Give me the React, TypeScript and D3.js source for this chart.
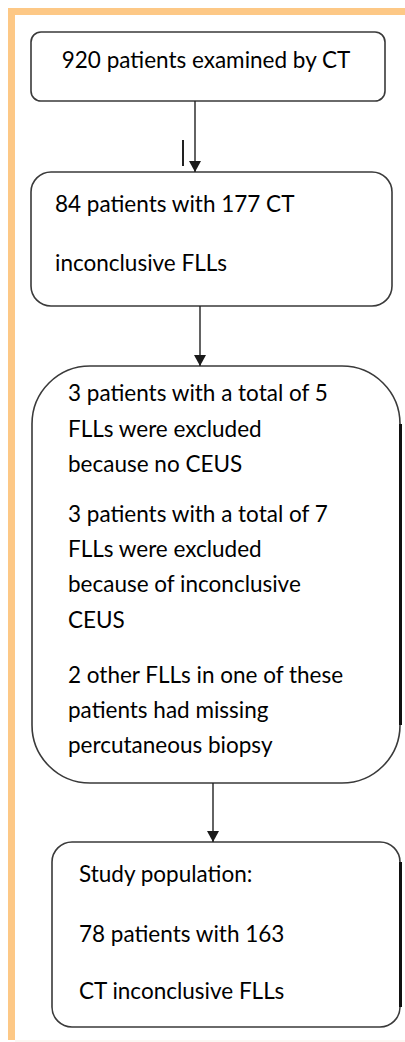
import { useEffect, useRef } from "react";
import * as d3 from "d3";

// box texts, top to bottom
const box1Lines = ["920 patients examined by CT"];
const box2Lines = ["84 patients with 177 CT", "inconclusive FLLs"];
const box3Lines = [
  "3 patients with a total of 5",
  "FLLs were excluded",
  "because no CEUS",
  "3 patients with a total of 7",
  "FLLs were excluded",
  "because of inconclusive",
  "CEUS",
  "2 other FLLs in one of these",
  "patients had missing",
  "percutaneous biopsy",
];
const box4Lines = ["Study population:", "78 patients with 163", "CT inconclusive FLLs"];

const allLines = [box1Lines, box2Lines, box3Lines, box4Lines];

// layout of the boxes (pixel geometry, not data)
const layout = [
  { x0: 31, x1: 385, y0: 32, y1: 101, r: 10, tx: 206, anchor: "middle", baselines: [68] },
  { x0: 31, x1: 392, y0: 172, y1: 306, r: 20, tx: 55, anchor: "start", baselines: [212, 271] },
  {
    x0: 32, x1: 400, y0: 366, y1: 783, r: 58, tx: 68, anchor: "start",
    baselines: [401, 437, 472, 522, 557, 592, 628, 683, 718, 753],
  },
  { x0: 52, x1: 400, y0: 842, y1: 1027, r: 20, tx: 79, anchor: "start", baselines: [882, 942, 999] },
];

const arrowX = [195, 200, 213];

const App = () => {
  const svgRef = useRef<SVGSVGElement | null>(null);

  useEffect(() => {
    if (!svgRef.current) return;
    const width = 405;
    const height = 1042;

    const svg = d3
      .select(svgRef.current)
      .attr("width", width)
      .attr("height", height)
      .attr("viewBox", `0 0 ${width} ${height}`)
      .style("position", "absolute")
      .style("left", "0px")
      .style("top", "0px")
      .style("background", "#fff");

    svg.selectAll("*").remove();

    // orange frame (top + left)
    svg.append("rect").attr("x", 8).attr("y", 8).attr("width", width - 8).attr("height", 7).attr("fill", "#fdc886");
    svg.append("rect").attr("x", 8).attr("y", 8).attr("width", 7).attr("height", 1032).attr("fill", "#fdc886");
    svg.append("line").attr("x1", 15).attr("x2", width).attr("y1", 1041).attr("y2", 1041).attr("stroke", "#f7efe8").attr("stroke-width", 1);

    const defs = svg.append("defs");
    defs
      .append("marker")
      .attr("id", "arrowhead")
      .attr("viewBox", "0 0 12 11")
      .attr("refX", 6)
      .attr("refY", 11)
      .attr("markerWidth", 12)
      .attr("markerHeight", 11)
      .attr("markerUnits", "userSpaceOnUse")
      .attr("orient", "0")
      .append("path")
      .attr("d", "M0,0L12,0L6,11Z")
      .attr("fill", "#1a1a1a");

    // boxes
    layout.forEach((b, i) => {
      svg
        .append("rect")
        .attr("x", b.x0)
        .attr("y", b.y0)
        .attr("width", b.x1 - b.x0)
        .attr("height", b.y1 - b.y0)
        .attr("rx", b.r)
        .attr("ry", b.r)
        .attr("fill", "#fff")
        .attr("stroke", "#3a3a3a")
        .attr("stroke-width", 1.6);

      const g = svg
        .append("g")
        .attr("font-family", "Lato, 'Open Sans', sans-serif")
        .attr("font-size", 22.5)
        .attr("fill", "#000");
      g.selectAll("text")
        .data(allLines[i])
        .join("text")
        .attr("x", b.tx)
        .attr("y", (_d, j) => b.baselines[j])
        .attr("text-anchor", b.anchor)
        .text((d) => d);
    });

    // thicker right edge on the last two boxes (cut off at the image edge)
    [layout[2], layout[3]].forEach((b) => {
      svg
        .append("line")
        .attr("x1", b.x1 + 0.5)
        .attr("x2", b.x1 + 0.5)
        .attr("y1", b.y0 + b.r)
        .attr("y2", b.y1 - b.r)
        .attr("stroke", "#111")
        .attr("stroke-width", 3);
    });

    // arrows between boxes
    arrowX.forEach((x, i) => {
      svg
        .append("line")
        .attr("x1", x)
        .attr("x2", x)
        .attr("y1", layout[i].y1)
        .attr("y2", layout[i + 1].y0)
        .attr("stroke", "#222")
        .attr("stroke-width", 1.4)
        .attr("marker-end", "url(#arrowhead)");
    });

    // stray tick left of the first arrow
    svg.append("line").attr("x1", 183).attr("x2", 183).attr("y1", 140).attr("y2", 166).attr("stroke", "#222").attr("stroke-width", 2);
  }, []);

  return <svg ref={svgRef}></svg>;
};

export default App;
